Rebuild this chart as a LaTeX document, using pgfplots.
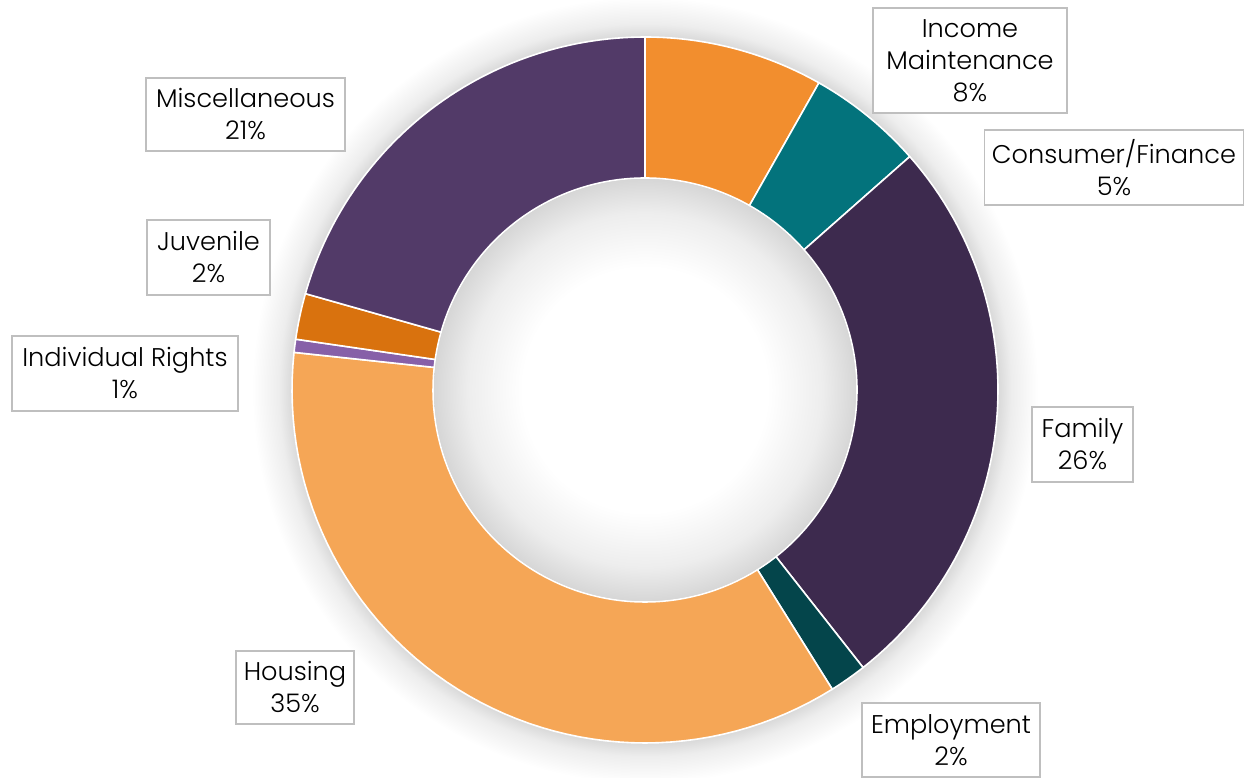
\documentclass[border=0pt]{standalone}
\usepackage{pgfplots}
\pgfplotsset{compat=1.18}
\usepackage{fontspec}
\setmainfont{Poppins}[UprightFont=* Light]
\definecolor{cIncome}{HTML}{F28E2E}
\definecolor{cConsumer}{HTML}{03737C}
\definecolor{cFamily}{HTML}{3D2A4E}
\definecolor{cEmploy}{HTML}{04454B}
\definecolor{cHousing}{HTML}{F5A656}
\definecolor{cIndiv}{HTML}{8760A8}
\definecolor{cJuv}{HTML}{D9720E}
\definecolor{cMisc}{HTML}{523A68}
\definecolor{boxgray}{HTML}{BFBFBF}
\tikzset{lbl/.style={draw=boxgray, line width=1.3pt, fill=white, align=center, inner xsep=4pt, inner ysep=3pt,
    font=\fontsize{25.6pt}{32pt}\selectfont}}
\pgfdeclareradialshading{outerglow}{\pgfpoint{0bp}{0bp}}{color(0bp)=(black!15); color(22.45bp)=(black!15); color(23.3bp)=(black!7); color(25bp)=(white); color(50bp)=(white)}
\pgfdeclareradialshading{innershadow}{\pgfpoint{0bp}{0bp}}{color(0bp)=(white); color(14.5bp)=(white); color(21bp)=(black!7); color(25bp)=(black!16); color(50bp)=(black!16)}
% centre (645,387), outer radius 353, inner radius 212 (pt = px)
\newcommand{\slice}[3]{%
 \addplot[fill=#3, draw=white, line width=1.6pt, samples at={0,1,...,121}, variable=\t]
 ({645+ifthenelse(\t<60.5,353,212)*cos(ifthenelse(\t<60.5, 90-3.6*(#1+(#2-#1)*\t/60), 90-3.6*(#2-(#2-#1)*(\t-61)/60)))},
  {387+ifthenelse(\t<60.5,353,212)*sin(ifthenelse(\t<60.5, 90-3.6*(#1+(#2-#1)*\t/60), 90-3.6*(#2-(#2-#1)*(\t-61)/60)))}) -- cycle;
}
\begin{document}
\begin{tikzpicture}
\begin{axis}[width=1245pt, height=777pt, scale only axis, xmin=0, xmax=1245, ymin=0, ymax=777, hide axis, clip=false]
\shade[shading=outerglow] (axis cs:645,387) circle[radius=393pt];
% slices: cumulative start %, end %
\slice{0}{8.2}{cIncome}
\slice{8.2}{13.5}{cConsumer}
\slice{13.5}{39.4}{cFamily}
\slice{39.4}{41.1}{cEmploy}
\slice{41.1}{76.7}{cHousing}
\slice{76.7}{77.3}{cIndiv}
\slice{77.3}{79.4}{cJuv}
\slice{79.4}{100}{cMisc}
\shade[shading=innershadow] (axis cs:645,387) circle[radius=211pt];
\node[lbl, minimum width=199pt, minimum height=73pt] at (axis cs:245.5,662.5) {Miscellaneous\\21\%};
\node[lbl, minimum width=194pt, minimum height=105pt] at (axis cs:970,716.5) {Income\\Maintenance\\8\%};
\node[lbl, minimum width=259pt, minimum height=75pt] at (axis cs:1114,609.5) {Consumer/Finance\\5\%};
\node[lbl, minimum width=123pt, minimum height=75pt] at (axis cs:208.5,519.5) {Juvenile\\2\%};
\node[lbl, minimum width=226pt, minimum height=75pt] at (axis cs:125,403.5) {Individual Rights\\1\%};
\node[lbl, minimum width=101pt, minimum height=75pt] at (axis cs:1082.5,332.5) {Family\\26\%};
\node[lbl, minimum width=118pt, minimum height=73pt] at (axis cs:295,89.5) {Housing\\35\%};
\node[lbl, minimum width=178pt, minimum height=74pt] at (axis cs:951,37) {Employment\\2\%};
\end{axis}
\pgfresetboundingbox
\useasboundingbox (0,0) rectangle (1245pt,777pt);
\end{tikzpicture}
\end{document}
